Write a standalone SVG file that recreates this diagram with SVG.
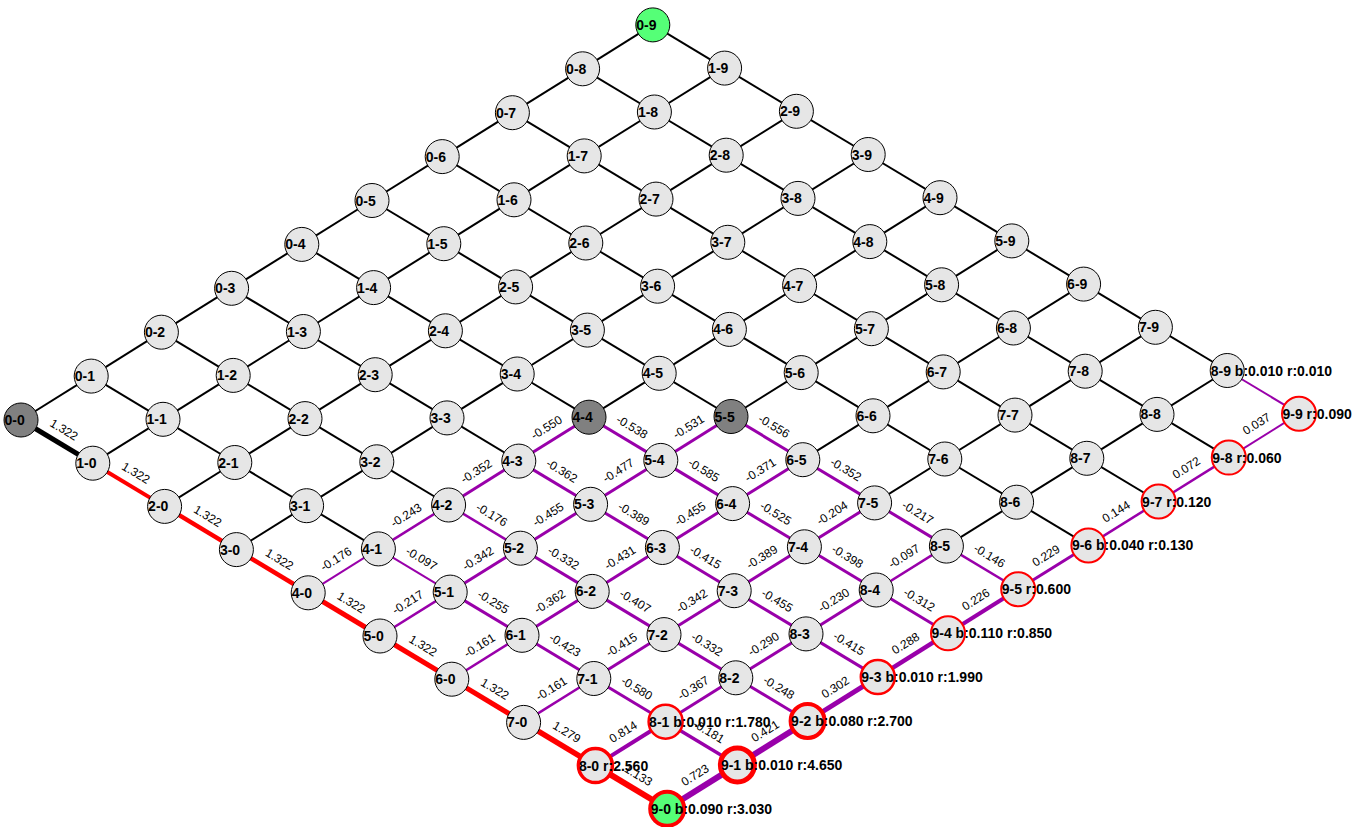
<svg xmlns="http://www.w3.org/2000/svg" width="1363" height="827" viewBox="0 0 1363 827">
<style>
.k line{stroke:#000;stroke-width:2}
.p line{stroke:#9900aa;stroke-width:3}
.r line{stroke:#ff0000}
.nd circle{fill:#e6e6e6;stroke:#000;stroke-width:1}
.nd text{font-family:"Liberation Sans",Arial,Helvetica,sans-serif;font-weight:bold;font-size:14px;fill:#000}
.dk circle{fill:#808080}
.gr circle{fill:#55ff77}
.rd circle{stroke:#ff0000;stroke-width:2}
.lb text{font-family:"Liberation Sans",Arial,Helvetica,sans-serif;font-size:12px;fill:#000;text-anchor:middle}
</style>
<rect x="0" y="0" width="1363" height="827" fill="#fff"/>
<g transform="translate(-1,1)">
<g id="connectors">
<g class="k">
<line x1="92.2" y1="375.1" x2="164" y2="418.3"/><line x1="164" y1="418.3" x2="235.8" y2="461.5"/><line x1="235.8" y1="461.5" x2="307.6" y2="504.7"/><line x1="307.6" y1="504.7" x2="379.4" y2="547.9"/>
<line x1="162.4" y1="331.2" x2="234.2" y2="374.4"/><line x1="234.2" y1="374.4" x2="306" y2="417.6"/><line x1="306" y1="417.6" x2="377.8" y2="460.8"/><line x1="377.8" y1="460.8" x2="449.6" y2="504"/>
<line x1="232.6" y1="287.3" x2="304.4" y2="330.5"/><line x1="304.4" y1="330.5" x2="376.2" y2="373.7"/><line x1="376.2" y1="373.7" x2="448" y2="416.9"/><line x1="448" y1="416.9" x2="519.8" y2="460.1"/>
<line x1="302.8" y1="243.4" x2="374.6" y2="286.6"/><line x1="374.6" y1="286.6" x2="446.4" y2="329.8"/><line x1="446.4" y1="329.8" x2="518.2" y2="373"/><line x1="518.2" y1="373" x2="590" y2="416.2"/>
<line x1="373" y1="199.5" x2="444.8" y2="242.7"/><line x1="444.8" y1="242.7" x2="516.6" y2="285.9"/><line x1="516.6" y1="285.9" x2="588.4" y2="329.1"/><line x1="588.4" y1="329.1" x2="660.2" y2="372.3"/><line x1="660.2" y1="372.3" x2="732" y2="415.5"/>
<line x1="443.2" y1="155.6" x2="515" y2="198.8"/><line x1="515" y1="198.8" x2="586.8" y2="242"/><line x1="586.8" y1="242" x2="658.6" y2="285.2"/><line x1="658.6" y1="285.2" x2="730.4" y2="328.4"/><line x1="730.4" y1="328.4" x2="802.2" y2="371.6"/><line x1="802.2" y1="371.6" x2="874" y2="414.8"/><line x1="874" y1="414.8" x2="945.8" y2="458"/><line x1="945.8" y1="458" x2="1017.6" y2="501.2"/><line x1="1017.6" y1="501.2" x2="1089.4" y2="544.4"/>
<line x1="513.4" y1="111.7" x2="585.2" y2="154.9"/><line x1="585.2" y1="154.9" x2="657" y2="198.1"/><line x1="657" y1="198.1" x2="728.8" y2="241.3"/><line x1="728.8" y1="241.3" x2="800.6" y2="284.5"/><line x1="800.6" y1="284.5" x2="872.4" y2="327.7"/><line x1="872.4" y1="327.7" x2="944.2" y2="370.9"/><line x1="944.2" y1="370.9" x2="1016" y2="414.1"/><line x1="1016" y1="414.1" x2="1087.8" y2="457.3"/><line x1="1087.8" y1="457.3" x2="1159.6" y2="500.5"/>
<line x1="583.6" y1="67.8" x2="655.4" y2="111"/><line x1="655.4" y1="111" x2="727.2" y2="154.2"/><line x1="727.2" y1="154.2" x2="799" y2="197.4"/><line x1="799" y1="197.4" x2="870.8" y2="240.6"/><line x1="870.8" y1="240.6" x2="942.6" y2="283.8"/><line x1="942.6" y1="283.8" x2="1014.4" y2="327"/><line x1="1014.4" y1="327" x2="1086.2" y2="370.2"/><line x1="1086.2" y1="370.2" x2="1158" y2="413.4"/><line x1="1158" y1="413.4" x2="1229.8" y2="456.6"/>
<line x1="653.8" y1="23.9" x2="725.6" y2="67.1"/><line x1="725.6" y1="67.1" x2="797.4" y2="110.3"/><line x1="797.4" y1="110.3" x2="869.2" y2="153.5"/><line x1="869.2" y1="153.5" x2="941" y2="196.7"/><line x1="941" y1="196.7" x2="1012.8" y2="239.9"/><line x1="1012.8" y1="239.9" x2="1084.6" y2="283.1"/><line x1="1084.6" y1="283.1" x2="1156.4" y2="326.3"/><line x1="1156.4" y1="326.3" x2="1228.2" y2="369.5"/>
<line x1="22" y1="419" x2="92.2" y2="375.1"/><line x1="92.2" y1="375.1" x2="162.4" y2="331.2"/><line x1="162.4" y1="331.2" x2="232.6" y2="287.3"/><line x1="232.6" y1="287.3" x2="302.8" y2="243.4"/><line x1="302.8" y1="243.4" x2="373" y2="199.5"/><line x1="373" y1="199.5" x2="443.2" y2="155.6"/><line x1="443.2" y1="155.6" x2="513.4" y2="111.7"/><line x1="513.4" y1="111.7" x2="583.6" y2="67.8"/><line x1="583.6" y1="67.8" x2="653.8" y2="23.9"/>
<line x1="93.8" y1="462.2" x2="164" y2="418.3"/><line x1="164" y1="418.3" x2="234.2" y2="374.4"/><line x1="234.2" y1="374.4" x2="304.4" y2="330.5"/><line x1="304.4" y1="330.5" x2="374.6" y2="286.6"/><line x1="374.6" y1="286.6" x2="444.8" y2="242.7"/><line x1="444.8" y1="242.7" x2="515" y2="198.8"/><line x1="515" y1="198.8" x2="585.2" y2="154.9"/><line x1="585.2" y1="154.9" x2="655.4" y2="111"/><line x1="655.4" y1="111" x2="725.6" y2="67.1"/>
<line x1="165.6" y1="505.4" x2="235.8" y2="461.5"/><line x1="235.8" y1="461.5" x2="306" y2="417.6"/><line x1="306" y1="417.6" x2="376.2" y2="373.7"/><line x1="376.2" y1="373.7" x2="446.4" y2="329.8"/><line x1="446.4" y1="329.8" x2="516.6" y2="285.9"/><line x1="516.6" y1="285.9" x2="586.8" y2="242"/><line x1="586.8" y1="242" x2="657" y2="198.1"/><line x1="657" y1="198.1" x2="727.2" y2="154.2"/><line x1="727.2" y1="154.2" x2="797.4" y2="110.3"/>
<line x1="237.4" y1="548.6" x2="307.6" y2="504.7"/><line x1="307.6" y1="504.7" x2="377.8" y2="460.8"/><line x1="377.8" y1="460.8" x2="448" y2="416.9"/><line x1="448" y1="416.9" x2="518.2" y2="373"/><line x1="518.2" y1="373" x2="588.4" y2="329.1"/><line x1="588.4" y1="329.1" x2="658.6" y2="285.2"/><line x1="658.6" y1="285.2" x2="728.8" y2="241.3"/><line x1="728.8" y1="241.3" x2="799" y2="197.4"/><line x1="799" y1="197.4" x2="869.2" y2="153.5"/>
<line x1="590" y1="416.2" x2="660.2" y2="372.3"/><line x1="660.2" y1="372.3" x2="730.4" y2="328.4"/><line x1="730.4" y1="328.4" x2="800.6" y2="284.5"/><line x1="800.6" y1="284.5" x2="870.8" y2="240.6"/><line x1="870.8" y1="240.6" x2="941" y2="196.7"/>
<line x1="732" y1="415.5" x2="802.2" y2="371.6"/><line x1="802.2" y1="371.6" x2="872.4" y2="327.7"/><line x1="872.4" y1="327.7" x2="942.6" y2="283.8"/><line x1="942.6" y1="283.8" x2="1012.8" y2="239.9"/>
<line x1="803.8" y1="458.7" x2="874" y2="414.8"/><line x1="874" y1="414.8" x2="944.2" y2="370.9"/><line x1="944.2" y1="370.9" x2="1014.4" y2="327"/><line x1="1014.4" y1="327" x2="1084.6" y2="283.1"/>
<line x1="875.6" y1="501.9" x2="945.8" y2="458"/><line x1="945.8" y1="458" x2="1016" y2="414.1"/><line x1="1016" y1="414.1" x2="1086.2" y2="370.2"/><line x1="1086.2" y1="370.2" x2="1156.4" y2="326.3"/>
<line x1="947.4" y1="545.1" x2="1017.6" y2="501.2"/><line x1="1017.6" y1="501.2" x2="1087.8" y2="457.3"/><line x1="1087.8" y1="457.3" x2="1158" y2="413.4"/><line x1="1158" y1="413.4" x2="1228.2" y2="369.5"/>
<line x1="22" y1="419" x2="93.8" y2="462.2" style="stroke-width:5"/>
</g>
<g class="r">
<line x1="93.8" y1="462.2" x2="165.6" y2="505.4" stroke-width="4"/>
<line x1="165.6" y1="505.4" x2="237.4" y2="548.6" stroke-width="4.5"/>
<line x1="237.4" y1="548.6" x2="309.2" y2="591.8" stroke-width="4.5"/>
<line x1="309.2" y1="591.8" x2="381" y2="635" stroke-width="5"/>
<line x1="381" y1="635" x2="452.8" y2="678.2" stroke-width="5"/>
<line x1="452.8" y1="678.2" x2="524.6" y2="721.4" stroke-width="5"/>
<line x1="524.6" y1="721.4" x2="596.4" y2="764.6" stroke-width="5.5"/>
<line x1="596.4" y1="764.6" x2="668.2" y2="807.8" stroke-width="6"/>
</g>
<g class="p">
<line x1="379.4" y1="547.9" x2="451.2" y2="591.1" style="stroke-width:2"/>
<line x1="451.2" y1="591.1" x2="523" y2="634.3"/>
<line x1="523" y1="634.3" x2="594.8" y2="677.5"/>
<line x1="594.8" y1="677.5" x2="666.6" y2="720.7"/>
<line x1="666.6" y1="720.7" x2="738.4" y2="763.9" style="stroke-width:3.5"/>
<line x1="449.6" y1="504" x2="521.4" y2="547.2" style="stroke-width:2.5"/>
<line x1="521.4" y1="547.2" x2="593.2" y2="590.4"/>
<line x1="593.2" y1="590.4" x2="665" y2="633.6"/>
<line x1="665" y1="633.6" x2="736.8" y2="676.8"/>
<line x1="736.8" y1="676.8" x2="808.6" y2="720"/>
<line x1="519.8" y1="460.1" x2="591.6" y2="503.3"/>
<line x1="591.6" y1="503.3" x2="663.4" y2="546.5"/>
<line x1="663.4" y1="546.5" x2="735.2" y2="589.7"/>
<line x1="735.2" y1="589.7" x2="807" y2="632.9"/>
<line x1="807" y1="632.9" x2="878.8" y2="676.1"/>
<line x1="590" y1="416.2" x2="661.8" y2="459.4"/>
<line x1="661.8" y1="459.4" x2="733.6" y2="502.6"/>
<line x1="733.6" y1="502.6" x2="805.4" y2="545.8"/>
<line x1="805.4" y1="545.8" x2="877.2" y2="589"/>
<line x1="877.2" y1="589" x2="949" y2="632.2"/>
<line x1="732" y1="415.5" x2="803.8" y2="458.7"/>
<line x1="803.8" y1="458.7" x2="875.6" y2="501.9"/>
<line x1="875.6" y1="501.9" x2="947.4" y2="545.1"/>
<line x1="947.4" y1="545.1" x2="1019.2" y2="588.3" style="stroke-width:2.5"/>
<line x1="1228.2" y1="369.5" x2="1300" y2="412.7" style="stroke-width:2"/>
<line x1="309.2" y1="591.8" x2="379.4" y2="547.9" style="stroke-width:2"/>
<line x1="379.4" y1="547.9" x2="449.6" y2="504" style="stroke-width:2.5"/>
<line x1="449.6" y1="504" x2="519.8" y2="460.1"/>
<line x1="519.8" y1="460.1" x2="590" y2="416.2"/>
<line x1="381" y1="635" x2="451.2" y2="591.1" style="stroke-width:2.5"/>
<line x1="451.2" y1="591.1" x2="521.4" y2="547.2"/>
<line x1="521.4" y1="547.2" x2="591.6" y2="503.3"/>
<line x1="591.6" y1="503.3" x2="661.8" y2="459.4"/>
<line x1="661.8" y1="459.4" x2="732" y2="415.5"/>
<line x1="452.8" y1="678.2" x2="523" y2="634.3" style="stroke-width:2.5"/>
<line x1="523" y1="634.3" x2="593.2" y2="590.4"/>
<line x1="593.2" y1="590.4" x2="663.4" y2="546.5"/>
<line x1="663.4" y1="546.5" x2="733.6" y2="502.6"/>
<line x1="733.6" y1="502.6" x2="803.8" y2="458.7"/>
<line x1="524.6" y1="721.4" x2="594.8" y2="677.5" style="stroke-width:2.5"/>
<line x1="594.8" y1="677.5" x2="665" y2="633.6"/>
<line x1="665" y1="633.6" x2="735.2" y2="589.7"/>
<line x1="735.2" y1="589.7" x2="805.4" y2="545.8"/>
<line x1="805.4" y1="545.8" x2="875.6" y2="501.9"/>
<line x1="596.4" y1="764.6" x2="666.6" y2="720.7" style="stroke-width:4"/>
<line x1="666.6" y1="720.7" x2="736.8" y2="676.8"/>
<line x1="736.8" y1="676.8" x2="807" y2="632.9"/>
<line x1="807" y1="632.9" x2="877.2" y2="589"/>
<line x1="877.2" y1="589" x2="947.4" y2="545.1" style="stroke-width:2.5"/>
<line x1="668.2" y1="807.8" x2="738.4" y2="763.9" style="stroke-width:6"/>
<line x1="738.4" y1="763.9" x2="808.6" y2="720" style="stroke-width:6"/>
<line x1="808.6" y1="720" x2="878.8" y2="676.1" style="stroke-width:5"/>
<line x1="878.8" y1="676.1" x2="949" y2="632.2" style="stroke-width:4.5"/>
<line x1="949" y1="632.2" x2="1019.2" y2="588.3" style="stroke-width:4"/>
<line x1="1019.2" y1="588.3" x2="1089.4" y2="544.4" style="stroke-width:3"/>
<line x1="1089.4" y1="544.4" x2="1159.6" y2="500.5" style="stroke-width:2.5"/>
<line x1="1159.6" y1="500.5" x2="1229.8" y2="456.6" style="stroke-width:2.5"/>
<line x1="1229.8" y1="456.6" x2="1300" y2="412.7" style="stroke-width:2"/>
</g>
<g id="edge-labels" class="lb">
<text transform="translate(65.1,428.6) rotate(31)" dy="0.35em">1.322</text>
<text transform="translate(136.9,471.8) rotate(31)" dy="0.35em">1.322</text>
<text transform="translate(208.7,515) rotate(31)" dy="0.35em">1.322</text>
<text transform="translate(280.5,558.2) rotate(31)" dy="0.35em">1.322</text>
<text transform="translate(352.3,601.4) rotate(31)" dy="0.35em">1.322</text>
<text transform="translate(424.1,644.6) rotate(31)" dy="0.35em">1.322</text>
<text transform="translate(495.9,687.8) rotate(31)" dy="0.35em">1.322</text>
<text transform="translate(567.7,731) rotate(31)" dy="0.35em">1.279</text>
<text transform="translate(639.5,774.2) rotate(31)" dy="0.35em">1.133</text>
<text transform="translate(422.5,557.5) rotate(31)" dy="0.35em">-0.097</text>
<text transform="translate(494.3,600.7) rotate(31)" dy="0.35em">-0.255</text>
<text transform="translate(566.1,643.9) rotate(31)" dy="0.35em">-0.423</text>
<text transform="translate(637.9,687.1) rotate(31)" dy="0.35em">-0.580</text>
<text transform="translate(709.7,730.3) rotate(31)" dy="0.35em">-0.181</text>
<text transform="translate(492.7,513.6) rotate(31)" dy="0.35em">-0.176</text>
<text transform="translate(564.5,556.8) rotate(31)" dy="0.35em">-0.332</text>
<text transform="translate(636.3,600) rotate(31)" dy="0.35em">-0.407</text>
<text transform="translate(708.1,643.2) rotate(31)" dy="0.35em">-0.332</text>
<text transform="translate(779.9,686.4) rotate(31)" dy="0.35em">-0.248</text>
<text transform="translate(562.9,469.7) rotate(31)" dy="0.35em">-0.362</text>
<text transform="translate(634.7,512.9) rotate(31)" dy="0.35em">-0.389</text>
<text transform="translate(706.5,556.1) rotate(31)" dy="0.35em">-0.415</text>
<text transform="translate(778.3,599.3) rotate(31)" dy="0.35em">-0.455</text>
<text transform="translate(850.1,642.5) rotate(31)" dy="0.35em">-0.415</text>
<text transform="translate(633.1,425.8) rotate(31)" dy="0.35em">-0.538</text>
<text transform="translate(704.9,469) rotate(31)" dy="0.35em">-0.585</text>
<text transform="translate(776.7,512.2) rotate(31)" dy="0.35em">-0.525</text>
<text transform="translate(848.5,555.4) rotate(31)" dy="0.35em">-0.398</text>
<text transform="translate(920.3,598.6) rotate(31)" dy="0.35em">-0.312</text>
<text transform="translate(775.1,425.1) rotate(31)" dy="0.35em">-0.556</text>
<text transform="translate(846.9,468.3) rotate(31)" dy="0.35em">-0.352</text>
<text transform="translate(918.7,511.5) rotate(31)" dy="0.35em">-0.217</text>
<text transform="translate(990.5,554.7) rotate(31)" dy="0.35em">-0.146</text>
<text transform="translate(336.9,558) rotate(-32)" dy="0.35em">-0.176</text>
<text transform="translate(407.1,514.1) rotate(-32)" dy="0.35em">-0.243</text>
<text transform="translate(477.3,470.2) rotate(-32)" dy="0.35em">-0.352</text>
<text transform="translate(547.5,426.3) rotate(-32)" dy="0.35em">-0.550</text>
<text transform="translate(408.7,601.2) rotate(-32)" dy="0.35em">-0.217</text>
<text transform="translate(478.9,557.3) rotate(-32)" dy="0.35em">-0.342</text>
<text transform="translate(549.1,513.4) rotate(-32)" dy="0.35em">-0.455</text>
<text transform="translate(619.3,469.5) rotate(-32)" dy="0.35em">-0.477</text>
<text transform="translate(689.5,425.6) rotate(-32)" dy="0.35em">-0.531</text>
<text transform="translate(480.5,644.4) rotate(-32)" dy="0.35em">-0.161</text>
<text transform="translate(550.7,600.5) rotate(-32)" dy="0.35em">-0.362</text>
<text transform="translate(620.9,556.6) rotate(-32)" dy="0.35em">-0.431</text>
<text transform="translate(691.1,512.7) rotate(-32)" dy="0.35em">-0.455</text>
<text transform="translate(761.3,468.8) rotate(-32)" dy="0.35em">-0.371</text>
<text transform="translate(552.3,687.6) rotate(-32)" dy="0.35em">-0.161</text>
<text transform="translate(622.5,643.7) rotate(-32)" dy="0.35em">-0.415</text>
<text transform="translate(692.7,599.8) rotate(-32)" dy="0.35em">-0.342</text>
<text transform="translate(762.9,555.9) rotate(-32)" dy="0.35em">-0.389</text>
<text transform="translate(833.1,512) rotate(-32)" dy="0.35em">-0.204</text>
<text transform="translate(624.1,730.8) rotate(-32)" dy="0.35em">0.814</text>
<text transform="translate(694.3,686.9) rotate(-32)" dy="0.35em">-0.367</text>
<text transform="translate(764.5,643) rotate(-32)" dy="0.35em">-0.290</text>
<text transform="translate(834.7,599.1) rotate(-32)" dy="0.35em">-0.230</text>
<text transform="translate(904.9,555.2) rotate(-32)" dy="0.35em">-0.097</text>
<text transform="translate(695.9,774) rotate(-32)" dy="0.35em">0.723</text>
<text transform="translate(766.1,730.1) rotate(-32)" dy="0.35em">0.421</text>
<text transform="translate(836.3,686.2) rotate(-32)" dy="0.35em">0.302</text>
<text transform="translate(906.5,642.3) rotate(-32)" dy="0.35em">0.288</text>
<text transform="translate(976.7,598.4) rotate(-32)" dy="0.35em">0.226</text>
<text transform="translate(1046.9,554.5) rotate(-32)" dy="0.35em">0.229</text>
<text transform="translate(1117.1,510.6) rotate(-32)" dy="0.35em">0.144</text>
<text transform="translate(1187.3,466.7) rotate(-32)" dy="0.35em">0.072</text>
<text transform="translate(1257.5,422.8) rotate(-32)" dy="0.35em">0.037</text>
</g>
</g>
<g id="nodes">
<g id="n0-0" class="nd dk" transform="translate(22,419)"><circle r="17"/><text x="-16.5" y="5">0-0</text></g>
<g id="n0-1" class="nd" transform="translate(92.2,375.1)"><circle r="17"/><text x="-16.5" y="5">0-1</text></g>
<g id="n0-2" class="nd" transform="translate(162.4,331.2)"><circle r="17"/><text x="-16.5" y="5">0-2</text></g>
<g id="n0-3" class="nd" transform="translate(232.6,287.3)"><circle r="17"/><text x="-16.5" y="5">0-3</text></g>
<g id="n0-4" class="nd" transform="translate(302.8,243.4)"><circle r="17"/><text x="-16.5" y="5">0-4</text></g>
<g id="n0-5" class="nd" transform="translate(373,199.5)"><circle r="17"/><text x="-16.5" y="5">0-5</text></g>
<g id="n0-6" class="nd" transform="translate(443.2,155.6)"><circle r="17"/><text x="-16.5" y="5">0-6</text></g>
<g id="n0-7" class="nd" transform="translate(513.4,111.7)"><circle r="17"/><text x="-16.5" y="5">0-7</text></g>
<g id="n0-8" class="nd" transform="translate(583.6,67.8)"><circle r="17"/><text x="-16.5" y="5">0-8</text></g>
<g id="n0-9" class="nd gr" transform="translate(653.8,23.9)"><circle r="17"/><text x="-16.5" y="5">0-9</text></g>
<g id="n1-0" class="nd" transform="translate(93.8,462.2)"><circle r="17"/><text x="-16.5" y="5">1-0</text></g>
<g id="n1-1" class="nd" transform="translate(164,418.3)"><circle r="17"/><text x="-16.5" y="5">1-1</text></g>
<g id="n1-2" class="nd" transform="translate(234.2,374.4)"><circle r="17"/><text x="-16.5" y="5">1-2</text></g>
<g id="n1-3" class="nd" transform="translate(304.4,330.5)"><circle r="17"/><text x="-16.5" y="5">1-3</text></g>
<g id="n1-4" class="nd" transform="translate(374.6,286.6)"><circle r="17"/><text x="-16.5" y="5">1-4</text></g>
<g id="n1-5" class="nd" transform="translate(444.8,242.7)"><circle r="17"/><text x="-16.5" y="5">1-5</text></g>
<g id="n1-6" class="nd" transform="translate(515,198.8)"><circle r="17"/><text x="-16.5" y="5">1-6</text></g>
<g id="n1-7" class="nd" transform="translate(585.2,154.9)"><circle r="17"/><text x="-16.5" y="5">1-7</text></g>
<g id="n1-8" class="nd" transform="translate(655.4,111)"><circle r="17"/><text x="-16.5" y="5">1-8</text></g>
<g id="n1-9" class="nd" transform="translate(725.6,67.1)"><circle r="17"/><text x="-16.5" y="5">1-9</text></g>
<g id="n2-0" class="nd" transform="translate(165.6,505.4)"><circle r="17"/><text x="-16.5" y="5">2-0</text></g>
<g id="n2-1" class="nd" transform="translate(235.8,461.5)"><circle r="17"/><text x="-16.5" y="5">2-1</text></g>
<g id="n2-2" class="nd" transform="translate(306,417.6)"><circle r="17"/><text x="-16.5" y="5">2-2</text></g>
<g id="n2-3" class="nd" transform="translate(376.2,373.7)"><circle r="17"/><text x="-16.5" y="5">2-3</text></g>
<g id="n2-4" class="nd" transform="translate(446.4,329.8)"><circle r="17"/><text x="-16.5" y="5">2-4</text></g>
<g id="n2-5" class="nd" transform="translate(516.6,285.9)"><circle r="17"/><text x="-16.5" y="5">2-5</text></g>
<g id="n2-6" class="nd" transform="translate(586.8,242)"><circle r="17"/><text x="-16.5" y="5">2-6</text></g>
<g id="n2-7" class="nd" transform="translate(657,198.1)"><circle r="17"/><text x="-16.5" y="5">2-7</text></g>
<g id="n2-8" class="nd" transform="translate(727.2,154.2)"><circle r="17"/><text x="-16.5" y="5">2-8</text></g>
<g id="n2-9" class="nd" transform="translate(797.4,110.3)"><circle r="17"/><text x="-16.5" y="5">2-9</text></g>
<g id="n3-0" class="nd" transform="translate(237.4,548.6)"><circle r="17"/><text x="-16.5" y="5">3-0</text></g>
<g id="n3-1" class="nd" transform="translate(307.6,504.7)"><circle r="17"/><text x="-16.5" y="5">3-1</text></g>
<g id="n3-2" class="nd" transform="translate(377.8,460.8)"><circle r="17"/><text x="-16.5" y="5">3-2</text></g>
<g id="n3-3" class="nd" transform="translate(448,416.9)"><circle r="17"/><text x="-16.5" y="5">3-3</text></g>
<g id="n3-4" class="nd" transform="translate(518.2,373)"><circle r="17"/><text x="-16.5" y="5">3-4</text></g>
<g id="n3-5" class="nd" transform="translate(588.4,329.1)"><circle r="17"/><text x="-16.5" y="5">3-5</text></g>
<g id="n3-6" class="nd" transform="translate(658.6,285.2)"><circle r="17"/><text x="-16.5" y="5">3-6</text></g>
<g id="n3-7" class="nd" transform="translate(728.8,241.3)"><circle r="17"/><text x="-16.5" y="5">3-7</text></g>
<g id="n3-8" class="nd" transform="translate(799,197.4)"><circle r="17"/><text x="-16.5" y="5">3-8</text></g>
<g id="n3-9" class="nd" transform="translate(869.2,153.5)"><circle r="17"/><text x="-16.5" y="5">3-9</text></g>
<g id="n4-0" class="nd" transform="translate(309.2,591.8)"><circle r="17"/><text x="-16.5" y="5">4-0</text></g>
<g id="n4-1" class="nd" transform="translate(379.4,547.9)"><circle r="17"/><text x="-16.5" y="5">4-1</text></g>
<g id="n4-2" class="nd" transform="translate(449.6,504)"><circle r="17"/><text x="-16.5" y="5">4-2</text></g>
<g id="n4-3" class="nd" transform="translate(519.8,460.1)"><circle r="17"/><text x="-16.5" y="5">4-3</text></g>
<g id="n4-4" class="nd dk" transform="translate(590,416.2)"><circle r="17"/><text x="-16.5" y="5">4-4</text></g>
<g id="n4-5" class="nd" transform="translate(660.2,372.3)"><circle r="17"/><text x="-16.5" y="5">4-5</text></g>
<g id="n4-6" class="nd" transform="translate(730.4,328.4)"><circle r="17"/><text x="-16.5" y="5">4-6</text></g>
<g id="n4-7" class="nd" transform="translate(800.6,284.5)"><circle r="17"/><text x="-16.5" y="5">4-7</text></g>
<g id="n4-8" class="nd" transform="translate(870.8,240.6)"><circle r="17"/><text x="-16.5" y="5">4-8</text></g>
<g id="n4-9" class="nd" transform="translate(941,196.7)"><circle r="17"/><text x="-16.5" y="5">4-9</text></g>
<g id="n5-0" class="nd" transform="translate(381,635)"><circle r="17"/><text x="-16.5" y="5">5-0</text></g>
<g id="n5-1" class="nd" transform="translate(451.2,591.1)"><circle r="17"/><text x="-16.5" y="5">5-1</text></g>
<g id="n5-2" class="nd" transform="translate(521.4,547.2)"><circle r="17"/><text x="-16.5" y="5">5-2</text></g>
<g id="n5-3" class="nd" transform="translate(591.6,503.3)"><circle r="17"/><text x="-16.5" y="5">5-3</text></g>
<g id="n5-4" class="nd" transform="translate(661.8,459.4)"><circle r="17"/><text x="-16.5" y="5">5-4</text></g>
<g id="n5-5" class="nd dk" transform="translate(732,415.5)"><circle r="17"/><text x="-16.5" y="5">5-5</text></g>
<g id="n5-6" class="nd" transform="translate(802.2,371.6)"><circle r="17"/><text x="-16.5" y="5">5-6</text></g>
<g id="n5-7" class="nd" transform="translate(872.4,327.7)"><circle r="17"/><text x="-16.5" y="5">5-7</text></g>
<g id="n5-8" class="nd" transform="translate(942.6,283.8)"><circle r="17"/><text x="-16.5" y="5">5-8</text></g>
<g id="n5-9" class="nd" transform="translate(1012.8,239.9)"><circle r="17"/><text x="-16.5" y="5">5-9</text></g>
<g id="n6-0" class="nd" transform="translate(452.8,678.2)"><circle r="17"/><text x="-16.5" y="5">6-0</text></g>
<g id="n6-1" class="nd" transform="translate(523,634.3)"><circle r="17"/><text x="-16.5" y="5">6-1</text></g>
<g id="n6-2" class="nd" transform="translate(593.2,590.4)"><circle r="17"/><text x="-16.5" y="5">6-2</text></g>
<g id="n6-3" class="nd" transform="translate(663.4,546.5)"><circle r="17"/><text x="-16.5" y="5">6-3</text></g>
<g id="n6-4" class="nd" transform="translate(733.6,502.6)"><circle r="17"/><text x="-16.5" y="5">6-4</text></g>
<g id="n6-5" class="nd" transform="translate(803.8,458.7)"><circle r="17"/><text x="-16.5" y="5">6-5</text></g>
<g id="n6-6" class="nd" transform="translate(874,414.8)"><circle r="17"/><text x="-16.5" y="5">6-6</text></g>
<g id="n6-7" class="nd" transform="translate(944.2,370.9)"><circle r="17"/><text x="-16.5" y="5">6-7</text></g>
<g id="n6-8" class="nd" transform="translate(1014.4,327)"><circle r="17"/><text x="-16.5" y="5">6-8</text></g>
<g id="n6-9" class="nd" transform="translate(1084.6,283.1)"><circle r="17"/><text x="-16.5" y="5">6-9</text></g>
<g id="n7-0" class="nd" transform="translate(524.6,721.4)"><circle r="17"/><text x="-16.5" y="5">7-0</text></g>
<g id="n7-1" class="nd" transform="translate(594.8,677.5)"><circle r="17"/><text x="-16.5" y="5">7-1</text></g>
<g id="n7-2" class="nd" transform="translate(665,633.6)"><circle r="17"/><text x="-16.5" y="5">7-2</text></g>
<g id="n7-3" class="nd" transform="translate(735.2,589.7)"><circle r="17"/><text x="-16.5" y="5">7-3</text></g>
<g id="n7-4" class="nd" transform="translate(805.4,545.8)"><circle r="17"/><text x="-16.5" y="5">7-4</text></g>
<g id="n7-5" class="nd" transform="translate(875.6,501.9)"><circle r="17"/><text x="-16.5" y="5">7-5</text></g>
<g id="n7-6" class="nd" transform="translate(945.8,458)"><circle r="17"/><text x="-16.5" y="5">7-6</text></g>
<g id="n7-7" class="nd" transform="translate(1016,414.1)"><circle r="17"/><text x="-16.5" y="5">7-7</text></g>
<g id="n7-8" class="nd" transform="translate(1086.2,370.2)"><circle r="17"/><text x="-16.5" y="5">7-8</text></g>
<g id="n7-9" class="nd" transform="translate(1156.4,326.3)"><circle r="17"/><text x="-16.5" y="5">7-9</text></g>
<g id="n8-0" class="nd rd" transform="translate(596.4,764.6)"><circle r="17" style="stroke-width:3.5"/><text x="-16.5" y="5">8-0 r:2.560</text></g>
<g id="n8-1" class="nd rd" transform="translate(666.6,720.7)"><circle r="17" style="stroke-width:2.5"/><text x="-16.5" y="5">8-1 b:0.010 r:1.780</text></g>
<g id="n8-2" class="nd" transform="translate(736.8,676.8)"><circle r="17"/><text x="-16.5" y="5">8-2</text></g>
<g id="n8-3" class="nd" transform="translate(807,632.9)"><circle r="17"/><text x="-16.5" y="5">8-3</text></g>
<g id="n8-4" class="nd" transform="translate(877.2,589)"><circle r="17"/><text x="-16.5" y="5">8-4</text></g>
<g id="n8-5" class="nd" transform="translate(947.4,545.1)"><circle r="17"/><text x="-16.5" y="5">8-5</text></g>
<g id="n8-6" class="nd" transform="translate(1017.6,501.2)"><circle r="17"/><text x="-16.5" y="5">8-6</text></g>
<g id="n8-7" class="nd" transform="translate(1087.8,457.3)"><circle r="17"/><text x="-16.5" y="5">8-7</text></g>
<g id="n8-8" class="nd" transform="translate(1158,413.4)"><circle r="17"/><text x="-16.5" y="5">8-8</text></g>
<g id="n8-9" class="nd" transform="translate(1228.2,369.5)"><circle r="17"/><text x="-16.5" y="5">8-9 b:0.010 r:0.010</text></g>
<g id="n9-0" class="nd gr rd" transform="translate(668.2,807.8)"><circle r="17" style="stroke-width:4"/><text x="-16.5" y="5">9-0 b:0.090 r:3.030</text></g>
<g id="n9-1" class="nd rd" transform="translate(738.4,763.9)"><circle r="17" style="stroke-width:5"/><text x="-16.5" y="5">9-1 b:0.010 r:4.650</text></g>
<g id="n9-2" class="nd rd" transform="translate(808.6,720)"><circle r="17" style="stroke-width:4"/><text x="-16.5" y="5">9-2 b:0.080 r:2.700</text></g>
<g id="n9-3" class="nd rd" transform="translate(878.8,676.1)"><circle r="17" style="stroke-width:2.5"/><text x="-16.5" y="5">9-3 b:0.010 r:1.990</text></g>
<g id="n9-4" class="nd rd" transform="translate(949,632.2)"><circle r="17"/><text x="-16.5" y="5">9-4 b:0.110 r:0.850</text></g>
<g id="n9-5" class="nd rd" transform="translate(1019.2,588.3)"><circle r="17"/><text x="-16.5" y="5">9-5 r:0.600</text></g>
<g id="n9-6" class="nd rd" transform="translate(1089.4,544.4)"><circle r="17"/><text x="-16.5" y="5">9-6 b:0.040 r:0.130</text></g>
<g id="n9-7" class="nd rd" transform="translate(1159.6,500.5)"><circle r="17"/><text x="-16.5" y="5">9-7 r:0.120</text></g>
<g id="n9-8" class="nd rd" transform="translate(1229.8,456.6)"><circle r="17"/><text x="-16.5" y="5">9-8 r:0.060</text></g>
<g id="n9-9" class="nd rd" transform="translate(1300,412.7)"><circle r="17"/><text x="-16.5" y="5">9-9 r:0.090</text></g>
</g>
</g>
</svg>
